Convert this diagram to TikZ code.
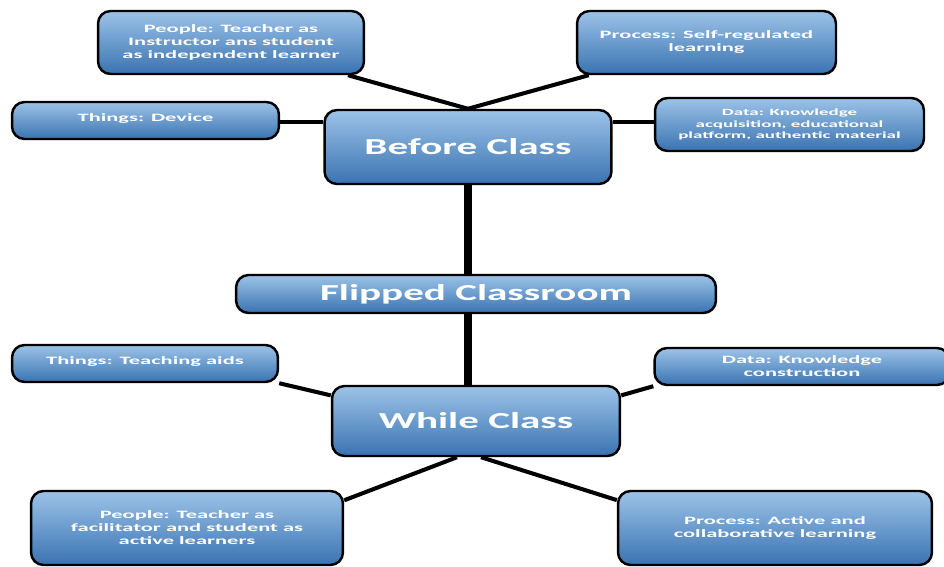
\documentclass[tikz,border=0pt]{standalone}
\usepackage{fontspec}
\newfontfamily\boxfont[FakeStretch=2.0]{Carlito}
\newfontfamily\titlefont[FakeStretch=1.8]{Carlito}
\usepackage{xcolor}
\usepackage{tikz}
\definecolor{boxtop}{HTML}{9CC3E8}
\definecolor{boxbot}{HTML}{3A73B1}
\tikzset{
  every box node/.style={
    draw=black, line width=1.4pt, rounded corners=0.25cm,
    top color=boxtop, bottom color=boxbot,
    text=white, align=center, inner sep=2pt,
  }
}
\usetikzlibrary{arrows, positioning}

\begin{document}
\begin{tikzpicture}[
          x=0.02cm, y=-0.02cm,
          box/.style={every box node},
          small/.style={box, font=\boxfont\bfseries\fontsize{6.4}{7.4}\selectfont},
          tiny/.style={box, font=\boxfont\bfseries\fontsize{5.4}{6.4}\selectfont},
          big/.style={box, font=\titlefont\bfseries\fontsize{13}{15}\selectfont},
          link/.style={line width=2.3pt},
          spine/.style={line width=4pt}
        ]
          \useasboundingbox (0,0) rectangle (944,567);

          % Before class
          \node[big, minimum width=5.74cm, minimum height=1.48cm] (before) at (468,147) {Before Class};
          \node[small, minimum width=5.32cm, minimum height=1.26cm] (ppl1) at (231,42.5) {People: Teacher as\\Instructor ans student\\as independent learner};
          \node[small, minimum width=5.18cm, minimum height=1.26cm] (proc1) at (706.5,42.5) {Process: Self-regulated\\learning};
          \node[small, minimum width=5.34cm, minimum height=0.74cm] (thing1) at (145.5,120.5) {Things: Device\\[-4pt]};
          \node[tiny, minimum width=5.38cm, minimum height=1.06cm] (data1) at (789.5,124.5) {Data: Knowledge\\acquisition, educational\\platform, authentic material};

          % Middle
          \node[big, minimum width=9.6cm, minimum height=0.76cm] (flip) at (476,294) {Flipped Classroom};

          % While class
          \node[big, minimum width=5.76cm, minimum height=1.4cm] (while) at (476,421) {While Class};
          \node[small, minimum width=5.32cm, minimum height=0.74cm] (thing2) at (145,363.5) {Things: Teaching aids\\[-4pt]};
          \node[small, minimum width=5.9cm, minimum height=0.74cm] (data2) at (802,366.5) {Data: Knowledge\\construction};
          \node[small, minimum width=6.24cm, minimum height=1.48cm] (ppl2) at (187,528) {People: Teacher as\\facilitator and student as\\active learners};
          \node[small, minimum width=6.28cm, minimum height=1.48cm] (proc2) at (775,528) {Process: Active and\\collaborative learning};

          % Lines
          \draw[link] (ppl1) -- (before.north);
          \draw[link] (proc1) -- (before.north);
          \draw[link] (thing1.east |- 0,122) -- (before.west |- 0,122);
          \draw[link] (before.east |- 0,122) -- (data1.west |- 0,122);
          \draw[spine] (before.south) -- (before.south |- flip.north);
          \draw[spine] (flip.south -| before.south) -- (while.north -| before.south);
          \draw[link] (thing2.south east) -- (while.170);
          \draw[link] (while.10) -- (data2.south west);
          \draw[link] ([xshift=-0.38cm]while.south) -- (ppl2.10);
          \draw[link] ([xshift=0.1cm]while.south) -- (proc2.170);
        \end{tikzpicture}
\end{document}
